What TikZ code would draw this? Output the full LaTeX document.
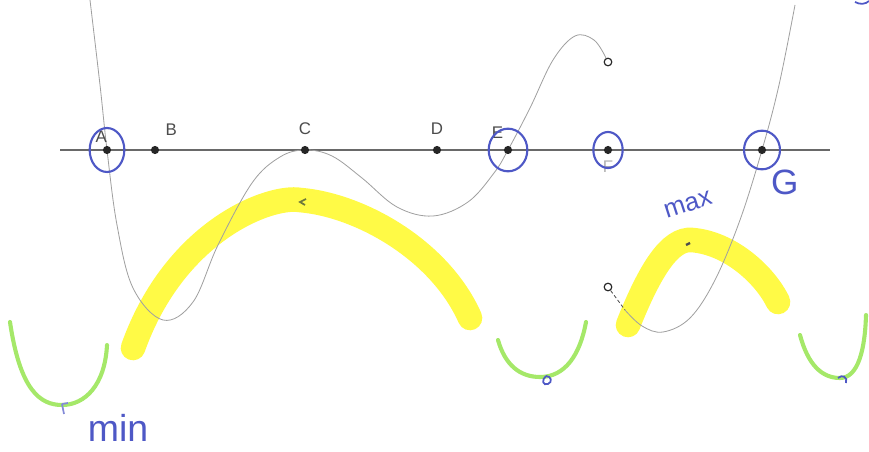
\documentclass[tikz,border=0pt]{standalone}
\usepackage{fontspec}
\setmainfont{Liberation Sans}
\usepackage{tikz}
\usetikzlibrary{positioning, calc}
\definecolor{axisgray}{RGB}{105,105,105}
\definecolor{curvegray}{RGB}{160,160,160}
\definecolor{inkblue}{RGB}{78,88,198}
\definecolor{hlyellow}{RGB}{255,250,70}
\definecolor{hlgreen}{RGB}{165,232,105}
\definecolor{markolive}{RGB}{110,120,60}
\tikzset{
  ptdot/.style={circle, fill=black!85, inner sep=0pt, minimum size=7pt},
  ptlabel/.style={font=\Large, text=black!70},
  opendot/.style={circle, draw=black!85, fill=white, line width=1pt,
    inner sep=0pt, minimum size=6.5pt},
  graphline/.style={curvegray, line width=0.7pt},
  axisline/.style={axisgray, line width=0.9pt},
  ring/.style={inkblue, line width=1.8pt},
  yellowband/.style={hlyellow, line width=21pt, line cap=round},
  greenband/.style={hlgreen, line width=3.5pt, line cap=round},
  handtext/.style={text=inkblue, inner sep=1pt}
}
\begin{document}
\begin{tikzpicture}[x=0.03cm, y=-0.03cm]
  \useasboundingbox (0,0) rectangle (869,452);

  % highlighted arcs (concave down)
  \draw[yellowband] (133,348) .. controls (175,230) and (270,195) .. (300,200)
    .. controls (360,205) and (440,250) .. (470,318);
  \draw[yellowband] (628,325) .. controls (650,270) and (670,238) .. (692,240)
    .. controls (730,243) and (765,275) .. (778,302);

  % highlighted arcs (concave up)
  \draw[greenband] (10,322) .. controls (20,390) and (40,405) .. (62,405)
    .. controls (85,405) and (105,385) .. (107,345);
  \draw[greenband] (498,340) .. controls (505,365) and (520,377) .. (540,377)
    .. controls (565,377) and (580,355) .. (586,322);
  \draw[greenband] (800,335) .. controls (808,365) and (822,378) .. (840,378)
    .. controls (858,378) and (865,350) .. (866,315);

  % x-axis
  \draw[axisline] (60,150) -- (830,150);

  % graph, first piece
  \draw[graphline] plot[smooth, tension=0.6] coordinates {
    (90,0) (100,85) (107,150) (117,225) (133,288) (163,320) (193,302)
    (218,245) (252,183) (280,157) (305,150) (332,156) (362,178) (397,207)
    (433,216) (468,202) (494,173) (508,150) (530,108) (553,60) (575,36)
    (594,40) (606,58)};
  \node[opendot] (Ftop) at (608,62) {};

  % graph, second piece
  \node[opendot] (Fbot) at (608,287) {};
  \coordinate (gstart) at (625,310);
  \draw[black!70, line width=0.7pt, densely dashed] (Fbot) -- (gstart);
  \draw[graphline] plot[smooth, tension=0.6] coordinates {
    (gstart) (642,326) (663,332) (690,318) (715,280) (740,220) (762,150)
    (779,85) (795,5)};

  % points on the axis
  \foreach \name/\x in {A/107, B/155, C/305, D/437, E/508, F/608, G/762}
    \node[ptdot] (\name) at (\x,150) {};
  \node[ptlabel, above left=0pt and -6pt of A] {A};
  \node[ptlabel, above right=6pt and 3pt of B] {B};
  \node[ptlabel, above=6pt of C] {C};
  \node[ptlabel, above=6pt of D] {D};
  \node[ptlabel, above left=4pt and -2pt of E] {E};
  \node[ptlabel, text=black!30, below=2pt of F] {F};

  % circled roots
  \draw[ring] (A) ellipse [x radius=0.52cm, y radius=0.66cm];
  \draw[ring] (E) ellipse [x radius=0.58cm, y radius=0.64cm];
  \draw[ring] (F) ellipse [x radius=0.44cm, y radius=0.54cm];
  \draw[ring] (G) ellipse [x radius=0.54cm, y radius=0.58cm];
  \node[handtext, font=\fontsize{30}{30}\selectfont, right=0.1cm of G, yshift=-0.98cm] (Glbl) {G};

  % small marks
  \draw[markolive, line width=1.5pt] (306,199) -- (300,202) -- (305,205);
  \draw[black!70, line width=2pt] (686,245) -- (690,243);
  \draw[inkblue!70, line width=1.5pt] (62,404) -- (64,414) (62,404) -- (68,403);
  \draw[inkblue, line width=1.5pt] (546,376) .. controls (541,380) and (543,386) .. (548,384)
    .. controls (553,382) and (551,376) .. (546,376);
  \draw[inkblue, line width=1.5pt] (838,378) .. controls (842,374) and (848,377) .. (846,383);
  \draw[inkblue, line width=1.5pt] (855,2) .. controls (860,5) and (866,4) .. (869,1);

  % handwritten words
  \node[handtext, font=\fontsize{32}{32}\selectfont] (minlbl) at (118,428) {min};
  \node[handtext, font=\fontsize{22}{22}\selectfont, rotate=18] (maxlbl) at (688,205) {max};
\end{tikzpicture}
\end{document}
